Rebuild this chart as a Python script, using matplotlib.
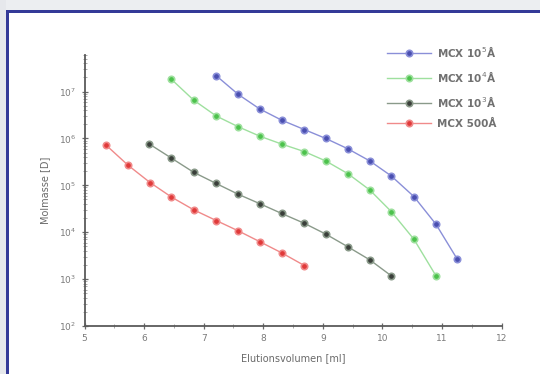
import numpy as np
import matplotlib
matplotlib.use("Agg")
import matplotlib.pyplot as plt
from matplotlib.patches import Rectangle
from matplotlib.ticker import LogLocator, MultipleLocator, FixedLocator

# values (elution volume in ml, log10 of mol mass)
x_blue = [7.21, 7.58, 7.94, 8.31, 8.69, 9.05, 9.42, 9.79, 10.15, 10.53, 10.90, 11.26]
logm_blue = [7.34, 6.94, 6.63, 6.39, 6.19, 6.00, 5.78, 5.52, 5.20, 4.76, 4.17, 3.42]

x_green = [6.46, 6.83, 7.21, 7.58, 7.94, 8.31, 8.69, 9.05, 9.42, 9.79, 10.15, 10.53, 10.90]
logm_green = [7.26, 6.82, 6.48, 6.25, 6.05, 5.88, 5.72, 5.52, 5.25, 4.90, 4.44, 3.85, 3.07]

x_dark = [6.09, 6.46, 6.83, 7.21, 7.58, 7.94, 8.31, 8.69, 9.05, 9.42, 9.79, 10.15]
logm_dark = [5.88, 5.58, 5.28, 5.04, 4.81, 4.61, 4.40, 4.19, 3.96, 3.69, 3.41, 3.07]

x_red = [5.36, 5.73, 6.10, 6.46, 6.83, 7.21, 7.58, 7.94, 8.31, 8.69]
logm_red = [5.86, 5.43, 5.06, 4.75, 4.48, 4.25, 4.03, 3.80, 3.56, 3.29]

labels = [r"MCX 10$^5$Å", r"MCX 10$^4$Å", r"MCX 10$^3$Å", "MCX 500Å"]
x_ticks = [5, 6, 7, 8, 9, 10, 11, 12]
y_ticks = [1e2, 1e3, 1e4, 1e5, 1e6, 1e7]

fig = plt.figure(figsize=(5.4, 3.74), dpi=100)
fig.patch.set_facecolor("white")

# page decoration: grey strip and blue frame of the scanned page
fig.patches.append(Rectangle((0, 1 - 11 / 374), 1, 11 / 374, transform=fig.transFigure,
                             facecolor="#eceef1", edgecolor="none", zorder=0))
fig.patches.append(Rectangle((0, 0), 6 / 540, 1, transform=fig.transFigure,
                             facecolor="#e6e8ec", edgecolor="none", zorder=0))
fig.patches.append(Rectangle((6 / 540, 1 - 13 / 374), 1, 2.5 / 374, transform=fig.transFigure,
                             facecolor="#343a98", edgecolor="none", zorder=1))
fig.patches.append(Rectangle((6 / 540, 0), 2.5 / 540, 1 - 11 / 374, transform=fig.transFigure,
                             facecolor="#343a98", edgecolor="none", zorder=1))

ax = fig.add_axes([84.5 / 540, 1 - 326 / 374, 417 / 540, 271 / 374])

series = [
    (x_blue, logm_blue, "#8a8fd8", "#4a4fb0"),
    (x_green, logm_green, "#9ee09e", "#4cc24c"),
    (x_dark, logm_dark, "#8a9a8a", "#3a3f3a"),
    (x_red, logm_red, "#f08a8a", "#e03a3a"),
]
for (xs, lm, lc, mc), lab in zip(series, labels):
    ax.plot(xs, 10 ** np.array(lm), "-", color=lc, lw=1.0, marker="o", ms=4.6,
            mfc=mc, mec=lc, mew=1.2, label=lab)

ax.set_yscale("log")
ax.set_xlim(5, 12)
ax.set_ylim(1e2, 10 ** 7.78)

ax.xaxis.set_major_locator(FixedLocator(x_ticks))
ax.xaxis.set_minor_locator(MultipleLocator(0.5))
ax.yaxis.set_major_locator(FixedLocator(y_ticks))
ax.yaxis.set_minor_locator(LogLocator(base=10, subs=np.arange(2, 10), numticks=20))

for s in ["top", "right"]:
    ax.spines[s].set_visible(False)
for s in ["left", "bottom"]:
    ax.spines[s].set_color("#5a5a5a")
    ax.spines[s].set_linewidth(1.3)

ax.tick_params(which="major", direction="inout", length=5, width=0.9, color="#6a6a6a",
               labelsize=6.5, labelcolor="#7a7a7a")
ax.tick_params(which="minor", direction="inout", length=2.5, width=0.6, color="#9a9a9a")
ax.set_xticklabels([str(v) for v in x_ticks])

ax.set_xlabel("Elutionsvolumen [ml]", fontsize=7, color="#6a6a6a", labelpad=7)
ax.set_ylabel("Molmasse [D]", fontsize=7, color="#6a6a6a", labelpad=6)

leg = ax.legend(loc="upper right", bbox_to_anchor=(1.01, 1.075), frameon=False,
                fontsize=7.5, handlelength=4.2, labelspacing=0.95, handletextpad=0.6)
for t in leg.get_texts():
    t.set_color("#707070")
    t.set_fontweight("bold")

fig.savefig("out.png", dpi=100, facecolor=fig.get_facecolor())
